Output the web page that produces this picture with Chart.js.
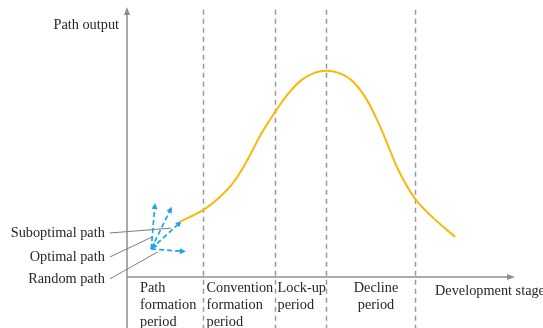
<!DOCTYPE html>
<html>
<head>
<meta charset="utf-8">
<script src="https://cdn.jsdelivr.net/npm/chart.js@4/dist/chart.umd.min.js"></script>
<style>
  html, body { margin: 0; padding: 0; background: #fff; }
  #wrap { width: 543px; height: 328px; }
</style>
</head>
<body>
<div id="wrap"><canvas id="c" width="543" height="328"></canvas></div>
<script>
// ---- data (units: development stage 0-100, path output 0-100) ----
const curveX = [13.6, 19.5, 23.4, 26.8, 29.4, 32.0, 34.5, 38.0, 41.4, 44.8, 48.2, 51.2, 54.6, 58.0, 61.5, 64.9, 67.4, 70.0, 73.8, 77.7, 81.1, 84.1];
const curveY = [20.5, 24.8, 29.1, 34.1, 39.6, 46.4, 53.2, 61.2, 68.0, 73.0, 75.7, 76.4, 75.4, 72.3, 65.6, 55.7, 47.0, 38.4, 29.1, 23.0, 18.6, 14.9];
const stageBounds = [19.5, 37.9, 51.0, 73.8];
const stageLabels = [
  ["Path", "formation", "period"],
  ["Convention", "formation", "period"],
  ["Lock-up", "period"],
  ["Decline", "period"]
];
const pathOrigin = [6.2, 10.4];
const pathTipsX = [7.2, 11.5, 14.0, 15.1];
const pathTipsY = [27.4, 26.0, 20.7, 9.4];
const pathNames = ["Suboptimal path", "Optimal path", "Random path"];
const leaderStartX = [-4.4, -4.4, -4.4];
const leaderStartY = [16.3, 7.4, -0.7];
const leaderEndX = [11.3, 6.4, 7.9];
const leaderEndY = [18.1, 14.8, 9.3];
const yAxisTitle = "Path output";
const xAxisTitle = "Development stage";

const FONT = "14.3px 'Liberation Serif', 'Times New Roman', serif";
const TEXT = "#262626";
const AXIS = "#8e8e8e";
const BLUE = "#1ba6ea";

function arrowHead(ctx, x1, y1, x2, y2, len, half, color) {
  const a = Math.atan2(y2 - y1, x2 - x1);
  ctx.save();
  ctx.fillStyle = color;
  ctx.beginPath();
  ctx.moveTo(x2, y2);
  ctx.lineTo(x2 - len * Math.cos(a) + half * Math.sin(a), y2 - len * Math.sin(a) - half * Math.cos(a));
  ctx.lineTo(x2 - len * Math.cos(a) - half * Math.sin(a), y2 - len * Math.sin(a) + half * Math.cos(a));
  ctx.closePath();
  ctx.fill();
  ctx.restore();
}

const decor = {
  id: 'decor',
  beforeDatasetsDraw(chart) {
    const ctx = chart.ctx;
    const xs = chart.scales.x, ys = chart.scales.y;
    const H = chart.height;
    const x0 = xs.getPixelForValue(0), y0 = ys.getPixelForValue(0);
    ctx.save();
    // dashed stage boundaries
    ctx.strokeStyle = "#9a9a9a";
    ctx.lineWidth = 1.5;
    ctx.setLineDash([5, 4]);
    stageBounds.forEach(v => {
      const px = Math.round(xs.getPixelForValue(v)) + 0.5;
      ctx.beginPath();
      ctx.moveTo(px, ys.getPixelForValue(99));
      ctx.lineTo(px, H);
      ctx.stroke();
    });
    ctx.setLineDash([]);
    // axes
    ctx.strokeStyle = AXIS;
    ctx.lineWidth = 1.5;
    ctx.beginPath();
    ctx.moveTo(x0, H);
    ctx.lineTo(x0, ys.getPixelForValue(100) + 4);
    ctx.stroke();
    arrowHead(ctx, x0, y0, x0, ys.getPixelForValue(100), 8, 3, AXIS);
    ctx.beginPath();
    ctx.moveTo(x0, y0);
    ctx.lineTo(xs.getPixelForValue(99.5) - 4, y0);
    ctx.stroke();
    arrowHead(ctx, x0, y0, xs.getPixelForValue(99.5), y0, 8, 3, AXIS);
    // leader lines
    ctx.strokeStyle = "#7d7d7d";
    ctx.lineWidth = 1;
    for (let i = 0; i < pathNames.length; i++) {
      ctx.beginPath();
      ctx.moveTo(xs.getPixelForValue(leaderStartX[i]), ys.getPixelForValue(leaderStartY[i]));
      ctx.lineTo(xs.getPixelForValue(leaderEndX[i]), ys.getPixelForValue(leaderEndY[i]));
      ctx.stroke();
    }
    // blue dashed arrows
    const ox = xs.getPixelForValue(pathOrigin[0]), oy = ys.getPixelForValue(pathOrigin[1]);
    ctx.strokeStyle = BLUE;
    ctx.lineWidth = 1.7;
    ctx.setLineDash([5, 3]);
    for (let i = 0; i < pathTipsX.length; i++) {
      const tx = xs.getPixelForValue(pathTipsX[i]), ty = ys.getPixelForValue(pathTipsY[i]);
      const a = Math.atan2(ty - oy, tx - ox);
      ctx.beginPath();
      ctx.moveTo(ox, oy);
      ctx.lineTo(tx - 5 * Math.cos(a), ty - 5 * Math.sin(a));
      ctx.stroke();
    }
    ctx.setLineDash([]);
    for (let i = 0; i < pathTipsX.length; i++) {
      const tx = xs.getPixelForValue(pathTipsX[i]), ty = ys.getPixelForValue(pathTipsY[i]);
      arrowHead(ctx, ox, oy, tx, ty, 6, 3, BLUE);
    }
    arrowHead(ctx, ox + 6, oy - 6, ox, oy, 6, 3, BLUE);

    // texts
    ctx.font = FONT;
    ctx.fillStyle = TEXT;
    ctx.textBaseline = "middle";
    ctx.textAlign = "right";
    ctx.fillText(yAxisTitle, x0 - 8, 25);
    for (let i = 0; i < pathNames.length; i++) {
      ctx.fillText(pathNames[i], xs.getPixelForValue(leaderStartX[i]) - 5, ys.getPixelForValue(leaderStartY[i]));
    }
    ctx.textAlign = "left";
    ctx.fillText(xAxisTitle, 435, 291);
    const labelLeft = [140, 206.5, 277.5, null];
    const lineH = 17;
    stageLabels.forEach((lines, i) => {
      lines.forEach((t, j) => {
        const y = 288.5 + j * lineH;
        if (labelLeft[i] !== null) {
          ctx.textAlign = "left";
          ctx.fillText(t, labelLeft[i], y);
        } else {
          ctx.textAlign = "center";
          ctx.fillText(t, 376, y);
        }
      });
    });
    ctx.restore();
  }
};

new Chart(document.getElementById('c'), {
  type: 'scatter',
  data: {
    datasets: [{
      data: curveX.map((x, i) => ({ x: x, y: curveY[i] })),
      showLine: true,
      borderColor: "#f8b80c",
      borderWidth: 2,
      pointRadius: 0,
      tension: 0.4,
      fill: false
    }]
  },
  options: {
    responsive: false,
    animation: false,
    layout: { padding: { left: 127, right: 26, top: 7, bottom: 51 } },
    plugins: { legend: { display: false }, tooltip: { enabled: false } },
    scales: {
      x: { type: 'linear', min: 0, max: 100, display: false },
      y: { type: 'linear', min: 0, max: 100, display: false }
    }
  },
  plugins: [decor]
});
</script>
</body>
</html>
